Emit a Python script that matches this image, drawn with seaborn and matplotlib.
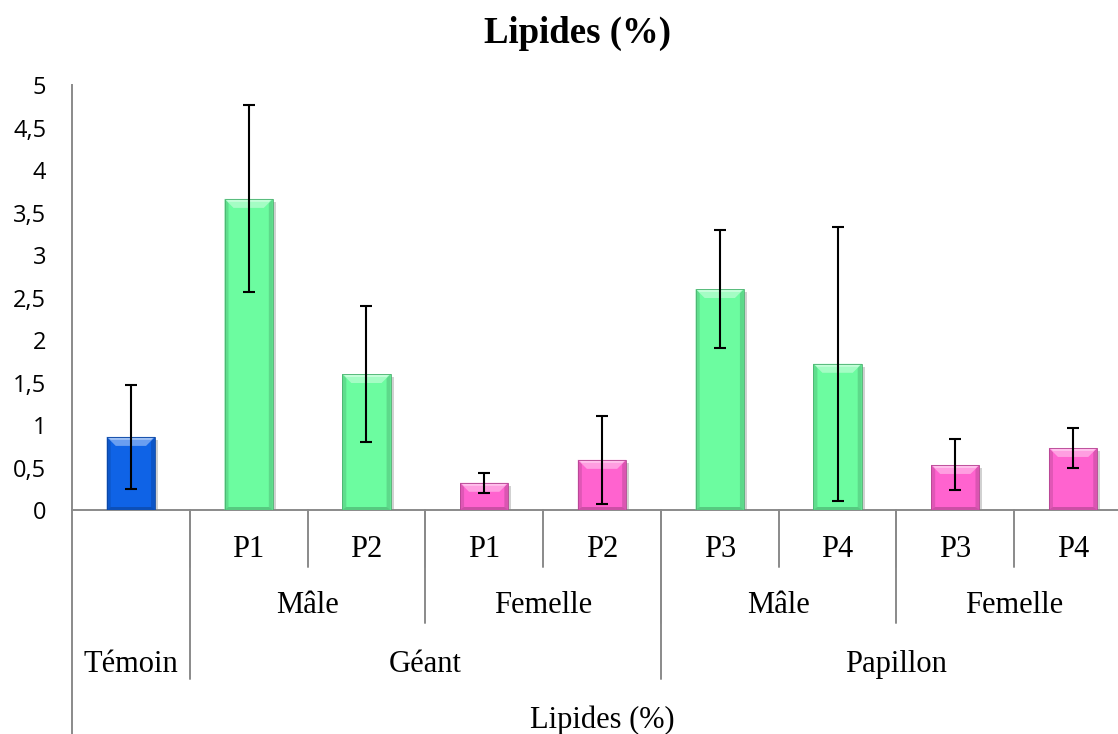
import numpy as np
import pandas as pd
import matplotlib
matplotlib.use("Agg")
import matplotlib.pyplot as plt
import matplotlib.colors as mcolors
from matplotlib.patches import Polygon, Rectangle
from matplotlib.lines import Line2D
from matplotlib.transforms import blended_transform_factory
import seaborn as sns

# ---- data -----------------------------------------------------------------
traitements = ["Témoin", "Géant", "Géant", "Géant", "Géant",
               "Papillon", "Papillon", "Papillon", "Papillon"]
sexes = ["", "Mâle", "Mâle", "Femelle", "Femelle",
         "Mâle", "Mâle", "Femelle", "Femelle"]
parcelles = ["", "P1", "P2", "P1", "P2", "P3", "P4", "P3", "P4"]
lipides = [0.86, 3.66, 1.60, 0.32, 0.59, 2.60, 1.72, 0.53, 0.73]
erreur = [0.61, 1.10, 0.80, 0.12, 0.52, 0.69, 1.61, 0.30, 0.23]
groupes = ["Témoin", "Mâle", "Mâle", "Femelle", "Femelle",
           "Mâle", "Mâle", "Femelle", "Femelle"]
y_ticks = [0, 0.5, 1, 1.5, 2, 2.5, 3, 3.5, 4, 4.5, 5]
y_tick_labels = ["0", "0,5", "1", "1,5", "2", "2,5", "3", "3,5", "4", "4,5", "5"]
axis_title = "Lipides (%)"

palette = {"Témoin": "#0F63E6", "Mâle": "#6CFCA0", "Femelle": "#FF63CF"}

df = pd.DataFrame({
    "barre": [" ".join(w for w in (t, s, p) if w)
              for t, s, p in zip(traitements, sexes, parcelles)],
    "lipides": lipides,
    "groupe": groupes,
})

# ---- figure ---------------------------------------------------------------
W, H = 1118, 734
sns.set_theme(style="white")
plt.rcParams["font.family"] = ["Open Sans", "DejaVu Sans"]
plt.rcParams["text.color"] = "black"
plt.rcParams["axes.labelcolor"] = "black"

fig = plt.figure(figsize=(W / 100, H / 100), dpi=100)
ax_left, ax_right, ax_bottom, ax_top = 72, 1132, 510, 85
ax = fig.add_axes([ax_left / W, 1 - ax_bottom / H,
                   (ax_right - ax_left) / W, (ax_bottom - ax_top) / H])

sns.barplot(data=df, x="barre", y="lipides", hue="groupe", palette=palette,
            dodge=False, width=0.41, errorbar=None, legend=False,
            saturation=1, ax=ax, zorder=3, linewidth=0)

n = len(lipides)
ax.set_xlim(-0.5, n - 0.5)
ax.set_ylim(0, 5)
ax.set_xticks([])
ax.set_xlabel("")
ax.set_ylabel("")

axis_grey = "#8A8A8A"
for side in ("top", "right"):
    ax.spines[side].set_visible(False)
for side in ("left", "bottom"):
    ax.spines[side].set_color(axis_grey)
    ax.spines[side].set_linewidth(1.4)
ax.set_yticks(y_ticks, y_tick_labels)
ax.tick_params(axis="y", direction="out", length=6.5, width=1.4,
               color=axis_grey, pad=12, labelsize=17, labelcolor="black")
ax.grid(False)

# ---- bevelled look on each bar -------------------------------------------
def mix(c, other, t):
    c = np.array(mcolors.to_rgb(c))
    o = np.array(mcolors.to_rgb(other))
    return tuple(c * (1 - t) + o * t)

to_px = ax.transData.transform
to_data = ax.transData.inverted().transform
bevel, side_w, bottom_w = 9, 4, 3

for bar in list(ax.patches):
    x0, y0 = bar.get_x(), bar.get_y()
    x1, y1 = x0 + bar.get_width(), y0 + bar.get_height()
    if bar.get_height() <= 0:
        continue
    face = bar.get_facecolor()
    (px0, py0), (px1, py1) = to_px([(x0, y0), (x1, y1)])

    def poly(points, color, z, **kw):
        p = Polygon(to_data(np.array(points)), closed=True, facecolor=color,
                    edgecolor="none", zorder=z, **kw)
        ax.add_patch(p)

    # soft drop shadow
    poly([(px0 + 3, py0 - 3), (px1 + 3, py0 - 3), (px1 + 3, py1 - 3),
          (px0 + 3, py1 - 3)], (0, 0, 0), 2.5, alpha=0.18)
    # lit top face
    poly([(px0, py1), (px1, py1), (px1 - bevel, py1 - bevel),
          (px0 + bevel, py1 - bevel)], mix(face, "white", 0.38), 3.2)
    poly([(px0 + 2, py1 - 1), (px1 - 2, py1 - 1), (px1 - 4, py1 - 3),
          (px0 + 4, py1 - 3)], mix(face, "white", 0.6), 3.3)
    # shaded sides
    poly([(px0, py1), (px0 + side_w, py1 - side_w), (px0 + side_w, py0),
          (px0, py0)], mix(face, "black", 0.12), 3.1)
    poly([(px1, py1), (px1 - side_w, py1 - side_w), (px1 - side_w, py0),
          (px1, py0)], mix(face, "black", 0.14), 3.1)
    poly([(px0, py0), (px1, py0), (px1 - side_w, py0 + bottom_w),
          (px0 + side_w, py0 + bottom_w)], mix(face, "black", 0.2), 3.1)
    # thin outline
    ax.add_patch(Rectangle((x0, y0), x1 - x0, y1 - y0, facecolor="none",
                           edgecolor=mix(face, "black", 0.3), linewidth=0.6,
                           zorder=3.4))

# ---- error bars -----------------------------------------------------------
ax.errorbar(np.arange(n), lipides, yerr=erreur, fmt="none", ecolor="black",
            elinewidth=1.5, capsize=4.5, capthick=1.5, zorder=5)

# ---- multi-level category axis -------------------------------------------
fy = lambda px: 1 - px / H
blend = blended_transform_factory(ax.transData, fig.transFigure)


def runs(labels):
    out, start = [], 0
    for i in range(1, len(labels) + 1):
        if i == len(labels) or labels[i] != labels[start] or \
                (labels is sexes and traitements[i] != traitements[start]):
            out.append((labels[start], start, i - 1))
            start = i
    return out


def vline(xd, bottom_px):
    fig.add_artist(Line2D([xd, xd], [fy(ax_bottom), fy(bottom_px)],
                          transform=blend, color=axis_grey, linewidth=1.4,
                          clip_on=False))


serif = ["Liberation Serif", "DejaVu Serif"]
label_size = 22

# level 1: plots
for i, p in enumerate(parcelles):
    if p:
        fig.text(i, fy(557), p, transform=blend, ha="center", va="baseline",
                 family=serif, fontsize=label_size, color="black")
# separators between every category
for i in range(1, n):
    vline(i - 0.5, 567)

# level 2: sex
for lab, a, b in runs(sexes):
    if lab:
        fig.text((a + b) / 2, fy(613), lab, transform=blend, ha="center",
                 va="baseline", family=serif, fontsize=label_size,
                 color="black")
        vline(b + 0.5, 623)

# level 3: treatment
for lab, a, b in runs(traitements):
    fig.text((a + b) / 2, fy(672), lab, transform=blend, ha="center",
             va="baseline", family=serif, fontsize=label_size, color="black")
    vline(b + 0.5, 679)

# outer left line and axis title
vline(-0.5, H)
fig.text((n - 1) / 2, fy(728), axis_title, transform=blend, ha="center",
         va="baseline", family=serif, fontsize=label_size, color="black")

# chart title
fig.text(578 / W, fy(43), axis_title, ha="center", va="baseline",
         family=serif, fontsize=26.5, fontweight="bold", color="black")

fig.savefig("out.png", dpi=100)
